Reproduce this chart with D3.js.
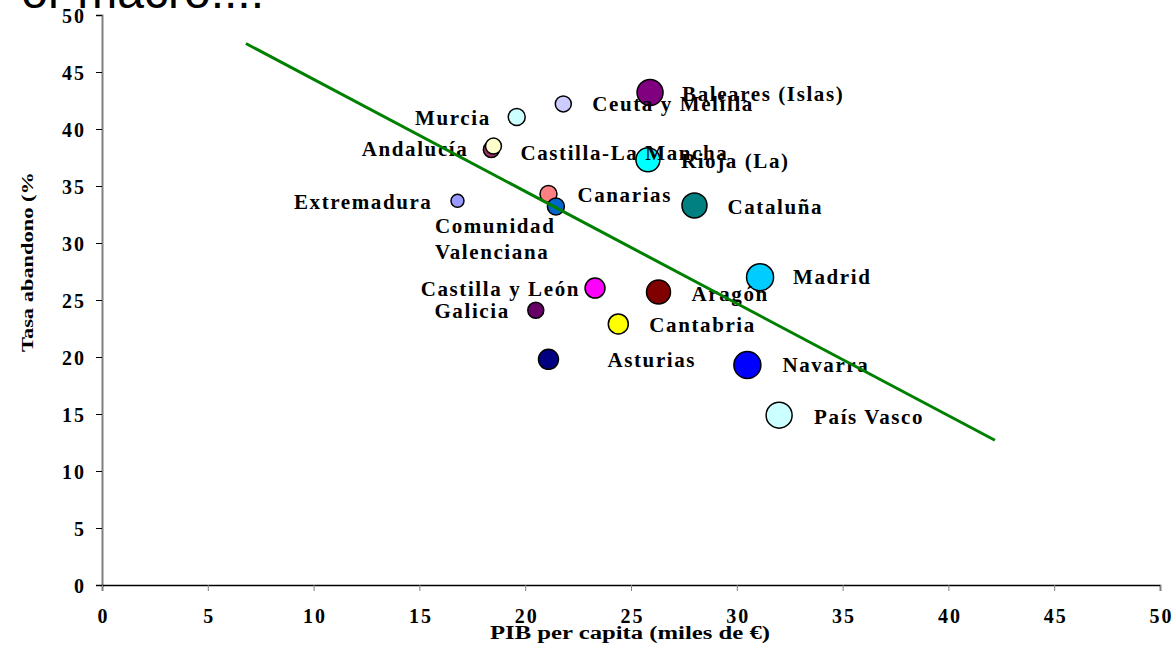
<!DOCTYPE html>
<html>
<head>
<meta charset="utf-8">
<script src="https://cdn.jsdelivr.net/npm/d3@7"></script>
<style>
  body { margin: 0; background: #fff; }
  svg { display: block; }
  .tick text { font-family: "Liberation Serif", serif; font-weight: bold; font-size: 20px; fill: #000; }
  .label { font-family: "Liberation Serif", serif; font-weight: bold; font-size: 21px; letter-spacing: 1.6px; fill: #000; }
  .title { font-family: "Liberation Serif", serif; font-weight: bold; font-size: 18px; fill: #000; }
</style>
</head>
<body>
<svg id="chart" width="1176" height="667"></svg>
<script>
const regiones = ['Baleares (Islas)', 'Ceuta y Melilla', 'Murcia', 'Andalucía', 'Castilla-La Mancha',
  'Rioja (La)', 'Canarias', 'Extremadura', 'Comunidad Valenciana', 'Cataluña', 'Madrid',
  'Castilla y León', 'Aragón', 'Galicia', 'Cantabria', 'Asturias', 'Navarra', 'País Vasco']
const pib = [25.9, 21.8, 19.6, 18.4, 18.5, 25.8, 21.1, 16.8, 21.45, 28.0, 31.1, 23.3, 26.3, 20.5, 24.4, 21.1, 30.5, 32.0]
const abandono = [43.2, 42.2, 41.05, 38.2, 38.5, 37.3, 34.3, 33.7, 33.2, 33.3, 27.0, 26.05, 25.7, 24.1, 22.9, 19.8, 19.3, 14.9]
const peso = [13, 8, 8.5, 8, 8, 12, 8.5, 6.5, 8.5, 12.5, 13.5, 10, 12, 8, 10, 10, 13.5, 13]
const colores = ['#800080', '#ccccff', '#ccffff', '#993366', '#ffffcc', '#00ffff', '#ff8080', '#9999ff',
  '#0066cc', '#008080', '#00ccff', '#ff00ff', '#800000', '#660066', '#ffff00', '#000080', '#0000ff', '#ccffff']
const tendencia = [[6.8, 47.5], [42.2, 12.7]]
const ticks = [0, 5, 10, 15, 20, 25, 30, 35, 40, 45, 50]

// where each label sits relative to its bubble
const etiquetas = {
  'Baleares (Islas)': [32, 8, 'start'],
  'Ceuta y Melilla': [29, 7, 'start'],
  'Murcia': [-26, 8, 'end'],
  'Andalucía': [-23, 6, 'end'],
  'Castilla-La Mancha': [27, 14, 'start'],
  'Rioja (La)': [33, 8, 'start'],
  'Canarias': [29, 8, 'start'],
  'Extremadura': [-25, 8, 'end'],
  'Comunidad Valenciana': [-121, 26, 'start'],
  'Cataluña': [33, 9, 'start'],
  'Madrid': [33, 7, 'start'],
  'Castilla y León': [-15, 8, 'end'],
  'Aragón': [33, 9, 'start'],
  'Galicia': [-26, 8, 'end'],
  'Cantabria': [31, 8, 'start'],
  'Asturias': [59, 8, 'start'],
  'Navarra': [35, 7, 'start'],
  'País Vasco': [35, 9, 'start']
}

const svg = d3.select('#chart')

const x = d3.scaleLinear().domain([0, 50]).range([102, 1160])
const y = d3.scaleLinear().domain([0, 50]).range([585, 15])
const r = d3.scaleLinear().domain([0, 14]).range([0, 14])

// title fragment cut at the top
svg.append('text')
  .attr('x', 264)
  .attr('y', 8)
  .attr('text-anchor', 'end')
  .style('font-family', '"Liberation Sans", Arial, sans-serif')
  .style('font-size', '48px')
  .text('or macro....')

const yAxis = svg.append('g')
  .attr('transform', `translate(${x(0)},0)`)
  .call(d3.axisLeft(y).tickValues(ticks).tickSize(6).tickPadding(12))
yAxis.select('.domain').attr('stroke', '#808080').attr('stroke-width', 2)
yAxis.selectAll('.tick line').attr('stroke', '#000')
yAxis.selectAll('.tick text').attr('dy', '0.35em').attr('textLength', (d) => d < 10 ? 11 : 22)

const xAxis = svg.append('g')
  .attr('transform', `translate(0,${y(0)})`)
  .call(d3.axisBottom(x).tickValues(ticks).tickSize(6).tickPadding(18))
xAxis.select('.domain').attr('stroke', '#000').attr('stroke-width', 1.5)
xAxis.selectAll('.tick line').attr('stroke', '#808080')
xAxis.selectAll('.tick text').attr('textLength', (d) => d < 10 ? 10 : 22)

svg.append('text')
  .attr('class', 'title')
  .attr('text-anchor', 'middle')
  .attr('x', 630)
  .attr('y', 639)
  .attr('textLength', 280)
  .attr('lengthAdjust', 'spacingAndGlyphs')
  .text('PIB per capita (miles de €)')

svg.append('text')
  .attr('class', 'title')
  .attr('text-anchor', 'middle')
  .attr('transform', `translate(33,262) rotate(-90)`)
  .attr('textLength', 180)
  .attr('lengthAdjust', 'spacingAndGlyphs')
  .style('font-size', '17px')
  .text('Tasa abandono (%')

const puntos = regiones.map((n, i) => ({ nombre: n, pib: pib[i], abandono: abandono[i], peso: peso[i], color: colores[i] }))

svg.append('g')
  .selectAll('circle')
  .data(puntos)
  .join('circle')
  .attr('cx', (d) => x(d.pib))
  .attr('cy', (d) => y(d.abandono))
  .attr('r', (d) => r(d.peso))
  .attr('fill', (d) => d.color)
  .attr('stroke', '#000')
  .attr('stroke-width', 1.5)

const labels = svg.append('g')
  .selectAll('text')
  .data(puntos)
  .join('text')
  .attr('class', 'label')
  .attr('text-anchor', (d) => etiquetas[d.nombre][2])
  .attr('x', (d) => x(d.pib) + etiquetas[d.nombre][0])
  .attr('y', (d) => y(d.abandono) + etiquetas[d.nombre][1])

labels.each((d, i, nodes) => {
  const t = d3.select(nodes[i])
  const partes = d.nombre === 'Comunidad Valenciana' ? ['Comunidad', 'Valenciana'] : [d.nombre]
  partes.forEach((p, k) => {
    t.append('tspan')
      .attr('x', t.attr('x'))
      .attr('dy', k === 0 ? 0 : 26)
      .text(p)
  })
})

svg.append('path')
  .datum(tendencia)
  .attr('d', d3.line().x((d) => x(d[0])).y((d) => y(d[1])))
  .attr('fill', 'none')
  .attr('stroke', '#008000')
  .attr('stroke-width', 3)
</script>
</body>
</html>
